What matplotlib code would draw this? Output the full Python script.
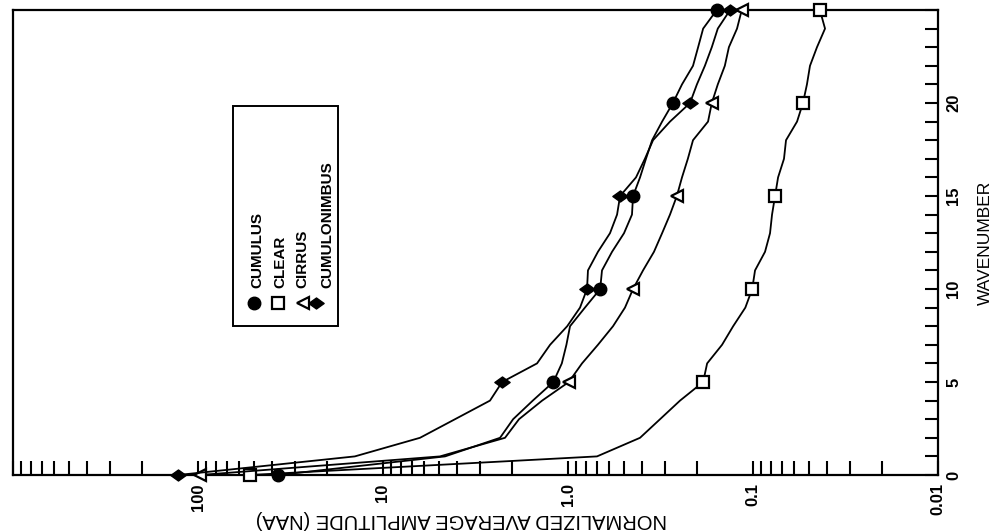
import matplotlib
matplotlib.use("Agg")
import matplotlib.pyplot as plt
from matplotlib.ticker import LogLocator, NullFormatter, FixedLocator
from matplotlib.patches import Rectangle
from matplotlib.path import Path
import numpy as np

# --- data: normalized average amplitude per wavenumber (0..25) ---
wavenumber = list(range(26))

cumulus = [36.9, 4.62, 2.33, 1.98, 1.55, 1.20, 1.08, 1.02, 0.975, 0.81,
           0.67, 0.655, 0.578, 0.498, 0.451, 0.445, 0.408, 0.379, 0.351, 0.310,
           0.271, 0.242, 0.211, 0.198, 0.186, 0.157]
clear = [52.3, 0.697, 0.408, 0.318, 0.248, 0.186, 0.177, 0.147, 0.128, 0.110,
         0.101, 0.0975, 0.0861, 0.0809, 0.0789, 0.0760, 0.0732, 0.0680, 0.0663, 0.0578,
         0.0537, 0.0511, 0.0492, 0.0451, 0.0408, 0.0435]
cirrus = [97.5, 4.92, 2.19, 1.84, 1.38, 0.99, 0.84, 0.689, 0.571, 0.492,
          0.445, 0.393, 0.343, 0.310, 0.281, 0.258, 0.242, 0.225, 0.211, 0.175,
          0.167, 0.155, 0.142, 0.135, 0.122, 0.115]
cumulonimbus = [128, 14.2, 6.31, 4.08, 2.64, 2.27, 1.47, 1.25, 1.01, 0.861,
                0.789, 0.780, 0.689, 0.593, 0.543, 0.523, 0.429, 0.384, 0.347, 0.281,
                0.219, 0.201, 0.182, 0.167, 0.155, 0.133]

series_names = ["CUMULUS", "CLEAR", "CIRRUS", "CUMULONIMBUS"]

naa_ticks = [1000, 100, 10, 1, 0.1, 0.01]
naa_labels = ["", "100", "10", "1.0", "0.1", "0.01"]
wn_labels = [str(k) if k % 5 == 0 and k < 25 else "" for k in wavenumber]

plt.rcParams["font.family"] = ["Liberation Sans", "DejaVu Sans"]
plt.rcParams["font.weight"] = "bold"

# wide diamond marker
diamond = Path([(-1.25, 0), (0, 0.9), (1.25, 0), (0, -0.9), (-1.25, 0)],
               [Path.MOVETO, Path.LINETO, Path.LINETO, Path.LINETO, Path.CLOSEPOLY])

styles = [
    dict(marker="o", ms=9, mfc="black", mec="black"),
    dict(marker="s", ms=8.5, mfc="white", mec="black", mew=1.6),
    dict(marker="<", ms=8.5, mfc="white", mec="black", mew=1.6),
    dict(marker=diamond, ms=11, mfc="black", mec="black"),
]

fig = plt.figure(figsize=(9.95, 5.31), dpi=100)
ax = fig.add_axes([13 / 995, 56 / 531, 925 / 995, 465 / 531])

# the chart is drawn rotated: amplitude along the bottom, wavenumber up the right
for vals, st in zip([cumulus, clear, cirrus, cumulonimbus], styles):
    ax.plot(vals, wavenumber, color="black", lw=1.3, markevery=5, zorder=3,
            clip_on=False, **st)

ax.set_xscale("log")
ax.set_xlim(1000, 0.01)
ax.set_ylim(0, 25)

ax.xaxis.set_major_locator(FixedLocator(naa_ticks))
ax.set_xticklabels(naa_labels)
ax.xaxis.set_minor_locator(LogLocator(base=10, subs=np.arange(2, 10)))
ax.xaxis.set_minor_formatter(NullFormatter())
ax.tick_params(axis="x", which="both", direction="in", length=10, width=1.5,
               bottom=True, top=False, labelsize=12, labelrotation=90, pad=6)

ax.yaxis.tick_right()
ax.set_yticks(wavenumber)
ax.set_yticklabels(wn_labels, rotation=90, va="center")
ax.tick_params(axis="y", which="both", direction="in", length=9.5, width=1.5,
               left=False, right=True, labelsize=12, pad=6)

for sp in ax.spines.values():
    sp.set_linewidth(1.6)

ax.set_xlabel("NORMALIZED AVERAGE AMPLITUDE (NAA)", rotation=180, fontsize=14.5,
              va="center", ha="center")
ax.xaxis.set_label_coords(0.485, -0.095)
ax.yaxis.set_label_position("right")
ax.set_ylabel("WAVENUMBER", rotation=90, fontsize=12.5, va="center", ha="center")
ax.yaxis.set_label_coords(1.0508, 0.50)

# hand-drawn style legend, rotated
ax.add_patch(Rectangle((0.2378, 0.3204), 0.1136, 0.4731, transform=ax.transAxes,
                       fill=False, lw=1.4, ec="black", zorder=4))
mark_x = [0.2605, 0.2865, 0.3135, 0.3276]
text_x = [0.2638, 0.2886, 0.3124, 0.3395]
for name, st, mx, tx in zip(series_names, styles, mark_x, text_x):
    ax.plot([mx], [0.3699], transform=ax.transAxes, ls="none", zorder=5,
            clip_on=False, **st)
    ax.text(tx, 0.4022, name, transform=ax.transAxes, rotation=90,
            ha="center", va="bottom", fontsize=11, zorder=5)

fig.savefig("out.png", dpi=100)
